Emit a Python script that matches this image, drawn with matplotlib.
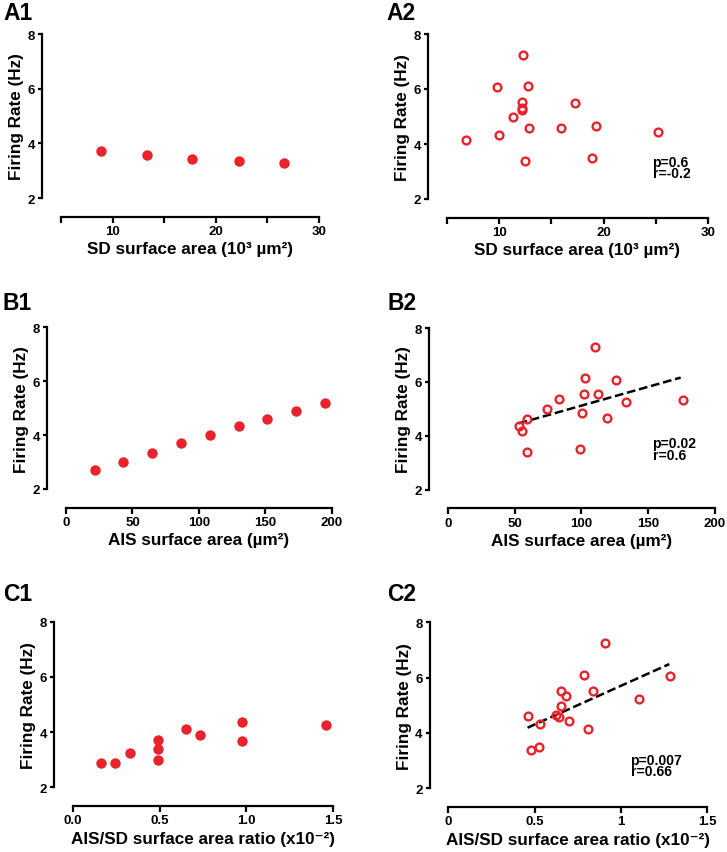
import matplotlib
matplotlib.use("Agg")
import matplotlib.pyplot as plt
from matplotlib.ticker import FixedLocator, FixedFormatter

plt.rcParams['font.family'] = ['Liberation Sans', 'DejaVu Sans']
plt.rcParams['font.weight'] = 'bold'

RED = '#e8232b'

# ---------------- data ----------------
a1_x = [8.9, 13.3, 17.7, 22.2, 26.6]
a1_y = [3.71, 3.56, 3.44, 3.35, 3.27]

a2_x = [6.86, 10.03, 9.81, 12.28, 12.76, 12.15, 12.21, 12.21, 11.38, 12.82, 12.47, 15.9, 17.3, 19.3, 18.85, 25.2]
a2_y = [4.15, 4.32, 6.06, 7.25, 6.11, 5.53, 5.32, 5.24, 4.97, 4.59, 3.37, 4.57, 5.50, 4.65, 3.50, 4.44]

b1_x = [21.8, 43.2, 65.0, 86.6, 108.7, 130.0, 151.6, 173.4, 195.2]
b1_y = [2.72, 2.99, 3.35, 3.71, 4.02, 4.33, 4.61, 4.90, 5.19]

b2_x = [53.1, 55.9, 59.1, 59.6, 74.6, 83.5, 98.8, 100.7, 101.7, 102.5, 110.5, 112.7, 119.5, 125.9, 133.4, 175.8]
b2_y = [4.35, 4.17, 4.64, 3.40, 5.01, 5.35, 3.52, 4.85, 5.54, 6.14, 7.28, 5.54, 4.66, 6.08, 5.24, 5.32]
b2_fit_x = [53.1, 174.3]
b2_fit_y = [4.46, 6.16]

c1_x = [0.165, 0.246, 0.328, 0.489, 0.489, 0.489, 0.650, 0.733, 0.976, 0.976, 1.46]
c1_y = [2.89, 2.87, 3.23, 3.70, 3.39, 3.00, 4.11, 3.91, 4.38, 3.67, 4.27]

c2_x = [0.459, 0.477, 0.525, 0.533, 0.622, 0.643, 0.653, 0.653, 0.683, 0.699, 0.788, 0.809, 0.840, 0.905, 1.104, 1.284]
c2_y = [4.61, 3.37, 3.51, 4.33, 4.66, 4.58, 5.51, 4.98, 5.34, 4.43, 6.11, 4.16, 5.52, 7.25, 5.22, 6.05]
c2_fit_x = [0.459, 1.28]
c2_fit_y = [4.19, 6.49]

y_ticks = [2, 4, 6, 8]
y_ticklabels = ['2', '4', '6', '8']

a_xticks = [5, 10, 15, 20, 25, 30]
a_xticklabels = ['', '10', '', '20', '', '30']
b_xticks = [0, 50, 100, 150, 200]
b_xticklabels = ['0', '50', '100', '150', '200']
c1_xticks = [0.0, 0.5, 1.0, 1.5]
c1_xticklabels = ['0.0', '0.5', '1.0', '1.5']
c2_xticks = [0, 0.5, 1.0, 1.5]
c2_xticklabels = ['0', '0.5', '1', '1.5']

ylabel = 'Firing Rate (Hz)'
a_xlabel = 'SD surface area (10³ µm²)'
b_xlabel = 'AIS surface area (µm²)'
c_xlabel = 'AIS/SD surface area ratio (x10⁻²)'

a2_stats = 'p=0.6\nr=-0.2'
b2_stats = 'p=0.02\nr=0.6'
c2_stats = 'p=0.007\nr=0.66'

# ---------------- layout ----------------
W, H = 727, 853
fig = plt.figure(figsize=(W / 100, H / 100), dpi=100)


def make_ax(l, t, r, b, xlim, xticks, xticklabels, xlabel, label, lab_xy):
    ax = fig.add_axes([l / W, 1 - b / H, (r - l) / W, (b - t) / H])
    ax.set_xlim(*xlim)
    ax.set_ylim(2, 8)
    for s in ['top', 'right']:
        ax.spines[s].set_visible(False)
    for s in ['left', 'bottom']:
        ax.spines[s].set_linewidth(1.6)
        ax.spines[s].set_position(('outward', 13.5))
    ax.yaxis.set_major_locator(FixedLocator(y_ticks))
    ax.yaxis.set_major_formatter(FixedFormatter(y_ticklabels))
    ax.xaxis.set_major_locator(FixedLocator(xticks))
    ax.xaxis.set_major_formatter(FixedFormatter(xticklabels))
    ax.tick_params(axis='both', width=1.6, labelsize=9.5, pad=2)
    ax.tick_params(axis='y', length=3)
    ax.tick_params(axis='x', length=4)
    for lab in ax.get_xticklabels() + ax.get_yticklabels():
        lab.set_fontweight('bold')
    ax.set_ylabel(ylabel, fontsize=12.3, fontweight='bold', labelpad=2.5)
    ax.set_xlabel(xlabel, fontsize=12.3, fontweight='bold', labelpad=3)
    fig.text(lab_xy[0] / W, 1 - lab_xy[1] / H, label, fontsize=16.5,
             fontweight='bold', ha='left', va='baseline')
    return ax


def filled(ax, x, y):
    ax.plot(x, y, 'o', color=RED, markersize=7.5, markeredgewidth=0, clip_on=False)


def hollow(ax, x, y):
    ax.plot(x, y, 'o', markerfacecolor='none', markeredgecolor=RED,
            markersize=5.6, markeredgewidth=1.7, clip_on=False)


def stats(x, y, txt):
    fig.text(x / W, 1 - y / H, txt, fontsize=10, fontweight='bold',
             ha='left', va='baseline', linespacing=0.8)


ax = make_ax(61, 35, 319, 199, (5, 30), a_xticks, a_xticklabels, a_xlabel, 'A1', (3, 20))
filled(ax, a1_x, a1_y)

ax = make_ax(446.7, 35, 708.3, 200, (5, 30), a_xticks, a_xticklabels, a_xlabel, 'A2', (386, 20))
hollow(ax, a2_x, a2_y)
stats(652.5, 178.5, a2_stats)

ax = make_ax(66, 328.3, 331.7, 490, (0, 200), b_xticks, b_xticklabels, b_xlabel, 'B1', (3, 310))
filled(ax, b1_x, b1_y)

ax = make_ax(447.7, 329, 715, 490.7, (0, 200), b_xticks, b_xticklabels, b_xlabel, 'B2', (387, 310))
ax.plot(b2_fit_x, b2_fit_y, '--', color='black', linewidth=1.8, dashes=(3.5, 1.5))
hollow(ax, b2_x, b2_y)
stats(652.5, 460, b2_stats)

ax = make_ax(72.7, 622.7, 333.3, 788.3, (0, 1.5), c1_xticks, c1_xticklabels, c_xlabel, 'C1', (3, 601))
filled(ax, c1_x, c1_y)

ax = make_ax(448.3, 623.3, 707.3, 789.3, (0, 1.5), c2_xticks, c2_xticklabels, c_xlabel, 'C2', (387, 601))
ax.plot(c2_fit_x, c2_fit_y, '--', color='black', linewidth=1.8, dashes=(3.5, 1.5))
hollow(ax, c2_x, c2_y)
stats(630.5, 776.5, c2_stats)

fig.savefig('out.png', dpi=100)
